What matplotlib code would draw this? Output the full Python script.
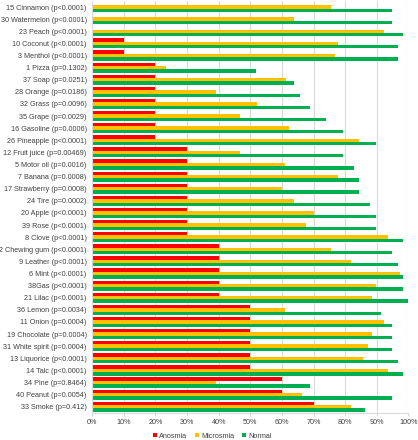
import matplotlib
matplotlib.use("Agg")
import matplotlib.pyplot as plt
import numpy as np
from matplotlib.ticker import PercentFormatter

plt.rcParams['font.family'] = ['Liberation Sans', 'DejaVu Sans']

# odour labels, top to bottom
labels = [
    "15 Cinnamon (p<0.0001)", "30 Watermelon (p<0.0001)", "23 Peach (p<0.0001)",
    "10 Coconut (p<0.0001)", "3 Menthol (p<0.0001)", "1 Pizza (p=0.1302)",
    "37 Soap (p=0.0251)", "28 Orange (p=0.0186)", "32 Grass (p=0.0096)",
    "35 Grape (p=0.0029)", "16 Gasoline (p=0.0006)", "26 Pineapple (p<0.0001)",
    "12 Fruit juice (p=0.00469)", "5 Motor oil (p=0.0016)", "7 Banana (p=0.0008)",
    "17 Strawberry (p=0.0008)", "24 Tire (p=0.0002)", "20 Apple (p<0.0001)",
    "39 Rose (p<0.0001)", "8 Clove (p<0.0001)", "2 Chewing gum (p<0.0001)",
    "9 Leather (p<0.0001)", "6 Mint (p<0.0001)", "38Gas (p<0.0001)",
    "21 Lilac (p<0.0001)", "36 Lemon (p=0.0034)", "11 Onion (p=0.0004)",
    "19 Chocolate (p=0.0004)", "31 White spirit (p=0.0004)", "13 Liquorice (p<0.0001)",
    "14 Talc (p<0.0001)", "34 Pine (p=0.8464)", "40 Peanut (p=0.0054)",
    "33 Smoke (p=0.412)",
]

anosmia = [0, 0, 0, 10, 10, 20, 20, 20, 20, 20, 20, 20, 30, 30, 30, 30, 30,
           30, 30, 30, 40, 40, 40, 40, 40, 50, 50, 50, 50, 50, 50, 60, 60, 70]
microsmia = [75.4, 63.8, 92.3, 77.9, 76.7, 23.4, 61.2, 39.1, 52.0, 46.7, 62.3,
             84.5, 46.7, 61.1, 77.9, 59.9, 63.8, 70.1, 67.6, 93.5, 75.4, 81.8,
             97.4, 89.7, 88.4, 61.1, 92.3, 88.4, 87.1, 85.7, 93.5, 39.0, 66.3, 81.9]
normal = [94.8, 94.8, 98.4, 96.7, 96.7, 51.7, 63.8, 65.6, 69.0, 74.1, 79.4,
          89.7, 79.4, 82.8, 84.5, 84.5, 88.0, 89.7, 89.7, 98.4, 94.8, 96.7,
          98.4, 98.4, 100.0, 91.4, 94.8, 94.8, 94.8, 96.7, 98.4, 69.0, 94.8, 86.3]

series = [("Anosmia", anosmia, "#FF0000"),
          ("Microsmia", microsmia, "#FFC000"),
          ("Normal", normal, "#00B050")]

fig = plt.figure(figsize=(4.18, 4.40), dpi=100)
ax = fig.add_axes([0.2208, 0.0618, 0.7560, 0.9360])

y = np.arange(len(labels))
h = 0.28
for i, (name, vals, color) in enumerate(series):
    ax.barh(y + (i - 1) * h, vals, height=h, color=color, label=name, zorder=2)

ax.set_ylim(len(labels) - 0.5, -0.5)
ax.set_yticks(y)
ax.set_yticklabels(labels, fontsize=5.25, color="#404040")
ax.set_xlim(0, 100)
ax.set_xticks(np.arange(0, 101, 10))
ax.xaxis.set_major_formatter(PercentFormatter(decimals=0))
ax.tick_params(axis="x", labelsize=5.25, labelcolor="#404040", length=2,
               color="#D9D9D9", pad=2.5)
ax.tick_params(axis="y", length=0, pad=4)

ax.grid(axis="x", color="#D9D9D9", linewidth=0.8, zorder=0)
for side in ["top", "right"]:
    ax.spines[side].set_visible(False)
ax.spines["left"].set_color("#D9D9D9")
ax.spines["bottom"].set_color("#D9D9D9")

fig.legend(loc="center", bbox_to_anchor=(0.508, 4.0 / 440), ncol=3,
           fontsize=5.25, frameon=False, handlelength=0.6, handleheight=0.6,
           handletextpad=0.3, columnspacing=1.0, labelcolor="#404040",
           borderaxespad=0, borderpad=0)

fig.savefig("out.png", dpi=100)
